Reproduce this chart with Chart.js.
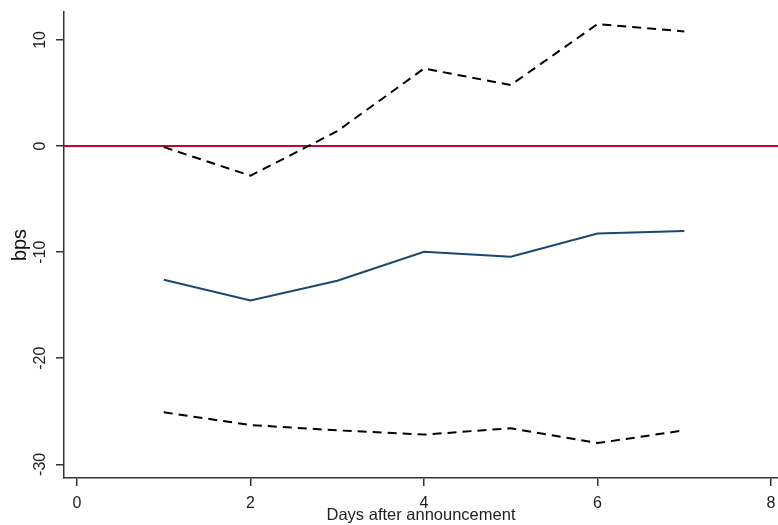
<!DOCTYPE html>
<html>
<head>
<meta charset="utf-8">
<script src="https://cdn.jsdelivr.net/npm/chart.js@4.4.1/dist/chart.umd.min.js"></script>
<style>
  html, body { margin: 0; padding: 0; background: #ffffff; }
  #wrap { width: 778px; height: 525px; }
</style>
</head>
<body>
<div id="wrap"><canvas id="c" width="778" height="525"></canvas></div>
<script>
// Data
const days = [1, 2, 3, 4, 5, 6, 7];
const estimate = [-12.6, -14.55, -12.7, -9.97, -10.44, -8.25, -8.0];
const upperBand = [-0.1, -2.8, 1.4, 7.3, 5.75, 11.5, 10.8];
const lowerBand = [-25.1, -26.3, -26.8, -27.2, -26.6, -28.0, -26.8];
const xTicks = [0, 2, 4, 6, 8];
const yTicks = [-30, -20, -10, 0, 10];
const zeroLine = 0;
const xRange = [-0.15, 8.08];
const yRange = [-31.29, 12.63];

const toXY = (ys) => days.map((d, i) => ({ x: d, y: ys[i] }));
const FONT = '"Liberation Sans", Arial, sans-serif';
const AXIS = '#333333';

const rotatedYLabels = {
  id: 'rotatedYLabels',
  afterDraw(chart) {
    const s = chart.scales.y;
    const ctx = chart.ctx;
    ctx.save();
    ctx.fillStyle = '#222222';
    ctx.font = '16px ' + FONT;
    ctx.textAlign = 'center';
    ctx.textBaseline = 'middle';
    s.ticks.forEach(t => {
      const y = s.getPixelForValue(t.value);
      ctx.save();
      ctx.translate(41, y);
      ctx.rotate(-Math.PI / 2);
      ctx.fillText(String(t.value), 0, 0);
      ctx.restore();
    });
    ctx.restore();
  }
};

new Chart(document.getElementById('c'), {
  type: 'scatter',
  data: {
    datasets: [
      {
        label: 'zero',
        data: [{ x: xRange[0], y: zeroLine }, { x: xRange[1], y: zeroLine }],
        showLine: true,
        borderColor: '#c10534',
        borderWidth: 2,
        pointRadius: 0,
        order: 3
      },
      {
        label: 'upper',
        data: toXY(upperBand),
        showLine: true,
        borderColor: '#000000',
        borderWidth: 2,
        borderDash: [9, 6],
        pointRadius: 0,
        order: 1
      },
      {
        label: 'estimate',
        data: toXY(estimate),
        showLine: true,
        borderColor: '#1a476f',
        borderWidth: 2,
        pointRadius: 0,
        order: 1
      },
      {
        label: 'lower',
        data: toXY(lowerBand),
        showLine: true,
        borderColor: '#000000',
        borderWidth: 2,
        borderDash: [9, 6],
        pointRadius: 0,
        order: 1
      }
    ]
  },
  options: {
    responsive: false,
    animation: false,
    devicePixelRatio: 1,
    layout: { padding: { top: 12, right: 0, left: 0, bottom: 0 } },
    plugins: { legend: { display: false }, tooltip: { enabled: false } },
    scales: {
      x: {
        type: 'linear',
        min: xRange[0],
        max: xRange[1],
        afterBuildTicks: (s) => { s.ticks = xTicks.map(v => ({ value: v })); },
        afterFit: (s) => { s.height = 47; s.paddingLeft = 0; s.paddingRight = 0; },
        grid: { drawOnChartArea: false, drawTicks: true, tickLength: 8, color: AXIS, lineWidth: 1.5 },
        border: { display: true, color: AXIS, width: 1.5 },
        ticks: { color: '#222222', font: { family: FONT, size: 16 }, padding: 8, maxRotation: 0, minRotation: 0 },
        title: { display: true, text: 'Days after announcement', color: '#222222', font: { family: FONT, size: 16.5 }, padding: { top: 0, bottom: 0 } }
      },
      y: {
        type: 'linear',
        min: yRange[0],
        max: yRange[1],
        afterBuildTicks: (s) => { s.ticks = yTicks.map(v => ({ value: v })); },
        afterFit: (s) => { s.width = 64; s.paddingTop = 0; s.paddingBottom = 0; },
        grid: { drawOnChartArea: false, drawTicks: true, tickLength: 8, color: AXIS, lineWidth: 1.5 },
        border: { display: true, color: AXIS, width: 1.5 },
        ticks: { display: false },
        title: { display: true, text: 'bps', color: '#111111', font: { family: FONT, size: 20 }, padding: { top: 8, bottom: 0 } }
      }
    }
  },
  plugins: [rotatedYLabels]
});
</script>
</body>
</html>
